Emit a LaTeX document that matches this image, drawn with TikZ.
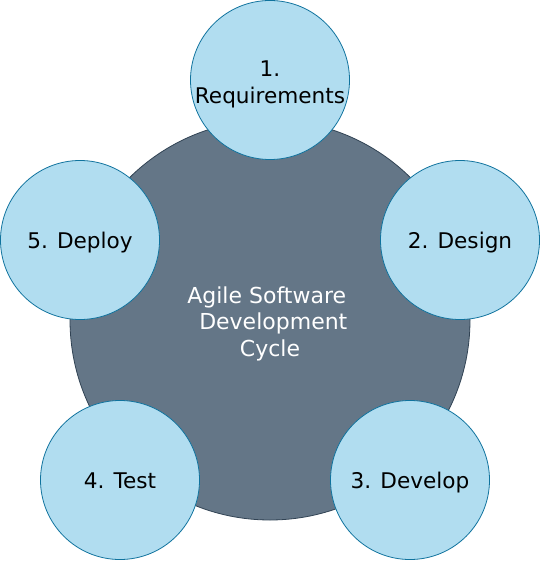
\documentclass[tikz,border=0pt]{standalone}
\usepackage{fontspec}
\setmainfont{DejaVu Sans}
\definecolor{hubfill}{HTML}{647687}
\definecolor{hubline}{HTML}{314354}
\definecolor{stepfill}{HTML}{B1DDF0}
\definecolor{stepline}{HTML}{10739E}
\begin{document}
\begin{tikzpicture}[x=1pt,y=-1pt,
  hub/.style={circle,fill=hubfill,draw=hubline,line width=0.8pt,minimum size=400pt,inner sep=0pt},
  hubtext/.style={text=white,align=center,inner sep=0pt,font=\fontsize{22}{26.5}\selectfont},
  stepcircle/.style={circle,fill=stepfill,draw=stepline,line width=0.8pt,minimum size=159pt,inner sep=0pt},
  steptext/.style={align=center,inner sep=0pt,font=\fontsize{21.6}{27}\selectfont}]
\useasboundingbox (0,0) rectangle (541,561);
\node[hub] (hub) at (270,320) {};
\node[hubtext] (hubt) at ([yshift=-3.5pt]hub.center) {Agile Software\hspace*{.3em}\\\hspace*{.3em}Development\\Cycle};
\node[stepcircle] (s1) at (270,80) {};
\node[stepcircle] (s2) at (460,240) {};
\node[stepcircle] (s3) at (410,480) {};
\node[stepcircle] (s4) at (120,480) {};
\node[stepcircle] (s5) at (80,240) {};
\node[steptext] (t1) at ([yshift=-4pt]s1.center) {1.\\Requirements};
\node[steptext] (t2) at ([yshift=-2.5pt]s2.center) {2. Design};
\node[steptext] (t3) at ([yshift=-2.5pt]s3.center) {3. Develop};
\node[steptext] (t4) at ([yshift=-1pt]s4.center) {4. Test};
\node[steptext] (t5) at ([yshift=-2.5pt]s5.center) {5. Deploy};
\end{tikzpicture}
\end{document}
